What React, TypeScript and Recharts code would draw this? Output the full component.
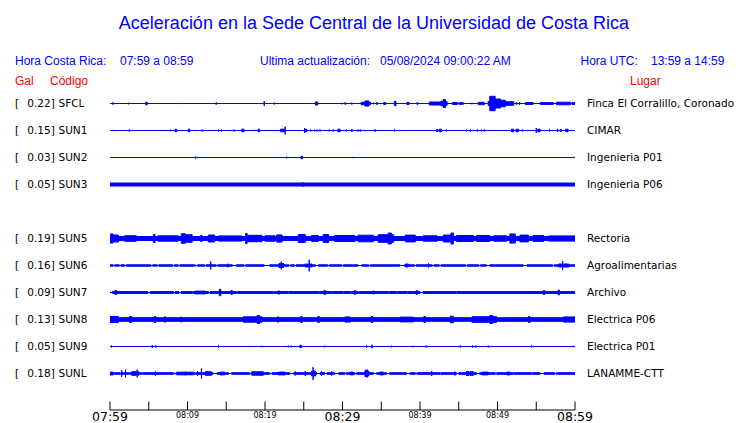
import { Area, ComposedChart, XAxis, YAxis } from "recharts"

// [start minute, end minute, half amplitude] ; start === end -> single spike
type Burst = [number, number, number]

const STATIONS = ["SFCL", "SUN1", "SUN2", "SUN3", "SUN5", "SUN6", "SUN7", "SUN8", "SUN9", "SUNL"]
const PEAK_GAL = [0.22, 0.15, 0.03, 0.05, 0.19, 0.16, 0.09, 0.13, 0.05, 0.18]
const PLACES = [
  "Finca El Corralillo, Coronado",
  "CIMAR",
  "Ingenieria P01",
  "Ingenieria P06",
  "Rectoria",
  "Agroalimentarias",
  "Archivo",
  "Electrica P06",
  "Electrica P01",
  "LANAMME-CTT",
]
// quiet noise level of each trace
const NOISE = [0, 0, 0, 1.5, 2.0, 0.7, 0.9, 1.8, 0, 0.8]

const SFCL: Burst[] = [
  [0.4, 0.4, 1.2], [2.4, 2.4, 0.8], [4.6, 4.8, 1.3], [8.9, 8.9, 0.6], [13.7, 13.7, 1.2],
  [19.9, 19.9, 2.5], [21.2, 21.2, 1.0], [26.5, 26.8, 1.6], [29.9, 29.9, 0.8], [30.3, 30.4, 0.8],
  [31.2, 31.2, 1.0], [32.4, 32.9, 1.2], [32.9, 33.4, 2.6], [33.4, 33.6, 1.3], [34.0, 34.0, 0.8],
  [34.4, 34.5, 1.0], [35.3, 35.6, 0.9], [36.7, 36.9, 2.2], [38.3, 38.6, 1.0], [39.6, 39.7, 0.9],
  [41.2, 42.7, 1.5], [42.7, 43.0, 2.3], [43.0, 43.3, 4.0], [43.3, 43.5, 1.8], [44.2, 44.8, 1.1],
  [45.0, 45.6, 0.8], [46.7, 46.7, 0.8], [47.5, 48.3, 1.2], [48.8, 49.0, 2.0], [49.0, 49.7, 7.2],
  [49.7, 50.4, 4.5], [50.4, 51.0, 3.3], [51.0, 52.1, 1.8], [52.4, 52.5, 0.9], [52.8, 52.9, 0.9],
  [53.6, 54.6, 1.0], [55.5, 57.2, 0.9], [57.6, 59.4, 1.3], [59.6, 60, 1.0],
]
const SUN1: Burst[] = [
  [0.4, 0.4, 0.6], [2.5, 2.5, 1.0], [7.8, 7.8, 0.8], [8.4, 8.6, 1.3], [10.1, 10.3, 1.3],
  [10.9, 10.9, 0.6], [11.9, 11.9, 1.0], [14.0, 14.0, 1.0], [14.4, 14.4, 0.8], [15.4, 15.4, 0.6],
  [16.0, 16.0, 1.0], [17.0, 17.3, 1.3], [18.3, 18.3, 0.6], [18.6, 18.6, 0.6], [19.1, 19.3, 1.3],
  [22.0, 22.5, 1.3], [22.6, 22.6, 3.8], [24.3, 24.3, 0.6], [25.1, 25.1, 2.5], [25.2, 25.4, 1.3],
  [25.9, 25.9, 1.0], [26.4, 26.4, 0.8], [26.7, 26.7, 1.0], [27.1, 27.1, 1.0], [28.3, 28.3, 0.8],
  [28.8, 28.8, 1.0], [29.4, 29.7, 1.3], [30.5, 30.5, 1.0], [31.2, 31.2, 1.4], [32.0, 32.0, 1.0],
  [32.3, 32.3, 1.0], [32.8, 32.8, 0.6], [34.2, 34.2, 1.3], [36.7, 36.7, 1.0], [38.1, 38.1, 0.6],
  [42.1, 42.3, 1.0], [42.5, 42.8, 1.3], [43.4, 43.4, 1.0], [46.0, 46.0, 0.8], [46.5, 46.5, 1.0],
  [46.9, 46.9, 0.6], [47.4, 47.4, 1.0], [47.9, 47.9, 0.8], [48.3, 48.3, 1.0], [51.8, 52.1, 1.3],
  [52.4, 52.7, 1.3], [53.2, 53.2, 1.0], [53.9, 53.9, 0.6], [55.0, 55.0, 2.5], [55.2, 55.5, 1.3],
  [56.7, 56.7, 1.0], [57.7, 57.8, 1.0], [58.1, 58.3, 1.0], [58.8, 59.1, 1.3],
]
const SUN2: Burst[] = [[11.05, 11.05, 1.0], [22.8, 22.8, 0.8], [24.65, 24.85, 1.3], [31.4, 31.4, 0.7]]
const SUN3: Burst[] = [[24.9, 24.9, 2.3]]
const SUN5: Burst[] = [
  [0.0, 0.4, 4.5], [0.4, 1.1, 3.5], [1.9, 3.4, 2.8], [5.6, 5.8, 4.0], [6.2, 8.8, 2.7],
  [9.2, 9.7, 4.8], [9.7, 10.6, 3.8], [11.7, 11.9, 3.0], [12.7, 13.5, 3.5], [14.0, 17.0, 2.6],
  [17.5, 17.7, 5.0], [17.8, 19.6, 3.2], [20.0, 21.3, 2.7], [21.5, 22.2, 3.6], [24.3, 25.2, 4.0],
  [26.0, 26.9, 2.9], [27.5, 28.2, 4.0], [29.0, 31.6, 3.0], [32.0, 34.0, 3.3], [34.6, 35.9, 3.8],
  [35.9, 36.3, 5.5], [36.3, 36.6, 3.8], [38.1, 39.4, 3.4], [40.4, 42.2, 2.7], [43.0, 44.0, 3.5],
  [44.0, 44.3, 5.5], [44.7, 46.9, 3.0], [47.3, 49.0, 3.0], [49.5, 51.2, 2.7], [51.6, 52.3, 4.6],
  [52.9, 54.0, 3.4], [54.6, 56.0, 2.9], [56.6, 60, 2.6],
]
const SUN6: Burst[] = [
  [0.4, 0.6, 0], [1.2, 1.4, 0], [1.9, 2.1, 0], [5.3, 5.5, 0], [6.1, 6.3, 0], [8.1, 8.3, 0],
  [8.8, 9.0, 0], [11.0, 11.3, 0], [12.2, 12.4, 0], [13.0, 13.0, 4.0], [13.7, 13.9, 0],
  [15.1, 15.3, 1.3], [15.8, 16.3, 0], [17.3, 17.5, 0], [19.9, 20.6, 0], [21.8, 22.0, 2.0],
  [22.1, 22.1, 3.8], [22.2, 22.4, 2.0], [23.1, 23.3, 0], [23.8, 24.0, 0], [25.2, 25.6, 1.5],
  [25.7, 25.7, 5.8], [25.8, 26.1, 1.5], [26.5, 26.9, 0], [28.1, 28.3, 0], [29.9, 30.1, 0],
  [32.0, 32.5, 0], [33.4, 33.6, 0], [37.4, 38.0, 0], [38.1, 38.5, 1.5], [39.3, 39.5, 0],
  [41.1, 41.1, 2.0], [41.6, 41.8, 0], [42.5, 42.7, 0], [45.9, 46.1, 0], [47.6, 47.8, 0],
  [48.6, 49.0, 0], [53.3, 53.8, 0], [57.1, 57.3, 0], [57.9, 58.3, 1.5], [58.4, 58.4, 4.3],
  [58.5, 59.2, 1.5],
]
const SUN7: Burst[] = [
  [0.0, 0.3, 0], [0.6, 0.9, 1.8], [4.9, 5.2, 0], [8.2, 8.4, 0], [8.9, 9.2, 0], [10.6, 10.7, 0],
  [11.0, 12.3, 1.4], [12.7, 12.9, 0], [14.1, 14.3, 3.2], [15.6, 15.8, 1.8], [16.3, 16.4, 0],
  [21.1, 21.2, 0], [21.8, 21.8, 2.0], [23.0, 23.1, 0], [26.9, 27.0, 0], [27.6, 27.8, 2.0],
  [28.6, 28.7, 0], [30.1, 30.2, 0], [31.0, 31.1, 0], [31.5, 31.7, 1.8], [32.0, 32.1, 0],
  [33.9, 34.1, 1.4], [35.9, 36.0, 0], [37.0, 37.1, 0], [38.3, 38.4, 0], [39.5, 39.7, 1.8],
  [40.0, 40.4, 0], [44.7, 44.8, 0], [55.9, 56.1, 1.8], [57.8, 58.0, 2.3],
]
const SUN8: Burst[] = [
  [0.0, 1.1, 3.0], [2.5, 2.8, 3.0], [5.7, 5.9, 3.0], [7.0, 7.2, 2.6], [9.1, 9.3, 2.4],
  [17.2, 19.0, 2.7], [19.0, 19.3, 4.0], [19.3, 19.6, 2.7], [21.6, 21.8, 2.6], [24.6, 24.8, 3.0],
  [26.8, 27.0, 3.0], [30.3, 31.0, 2.6], [33.7, 33.9, 3.0], [37.4, 39.1, 2.4], [40.5, 40.7, 3.0],
  [43.9, 44.3, 3.3], [46.7, 49.0, 2.8], [49.0, 49.4, 4.0], [49.4, 49.9, 2.8], [54.0, 54.2, 3.0],
  [58.5, 60, 2.6],
]
const SUN9: Burst[] = [
  [0.2, 0.2, 1.0], [1.7, 1.7, 0.6], [5.4, 5.5, 1.0], [5.9, 5.9, 1.0], [7.7, 7.7, 0.6],
  [9.9, 9.9, 0.6], [14.0, 14.0, 1.0], [17.8, 17.8, 0.6], [18.3, 18.3, 0.6], [19.6, 19.6, 0.8],
  [22.6, 22.6, 0.6], [23.0, 23.0, 0.8], [23.4, 23.4, 0.8], [24.5, 24.7, 1.2], [27.7, 27.7, 0.8],
  [33.1, 33.1, 1.0], [33.8, 33.8, 1.8], [36.3, 36.3, 0.8], [37.6, 37.6, 0.6], [39.1, 39.1, 0.8],
  [40.8, 40.8, 1.0], [45.2, 45.2, 1.0], [46.8, 46.8, 1.0], [47.2, 47.2, 1.0], [48.8, 48.8, 1.0],
  [54.4, 54.4, 1.0], [58.7, 58.7, 0.6], [59.7, 59.7, 0.6],
]
const SUNL: Burst[] = [
  [0.0, 0.4, 1.4], [0.6, 0.7, 0], [1.3, 1.4, 0], [1.5, 1.5, 3.5], [2.0, 2.0, 3.8], [2.4, 2.5, 0],
  [2.8, 3.4, 1.8], [3.5, 3.5, 3.8], [3.6, 3.7, 1.8], [4.1, 4.2, 0], [5.8, 5.9, 1.8], [8.2, 8.5, 0],
  [8.6, 9.6, 1.3], [9.7, 9.7, 2.0], [9.8, 10.8, 1.3], [11.0, 11.1, 0], [11.3, 11.3, 2.5],
  [11.8, 11.8, 5.0], [12.3, 13.1, 1.8], [13.3, 13.8, 0], [14.2, 14.8, 1.4], [15.3, 15.7, 0],
  [18.0, 18.2, 0], [18.3, 19.8, 1.7], [20.6, 20.9, 0], [21.7, 22.6, 1.4], [23.2, 23.7, 0],
  [23.9, 23.9, 2.0], [25.2, 25.2, 2.5], [26.0, 26.1, 2.5], [26.2, 26.2, 6.3], [26.3, 26.5, 2.5],
  [26.7, 27.1, 0], [27.3, 27.3, 2.2], [27.7, 28.0, 0], [28.6, 28.6, 2.0], [29.0, 29.5, 0],
  [30.3, 30.5, 0], [31.0, 31.4, 1.4], [31.6, 31.8, 0], [32.9, 33.1, 3.2], [33.2, 33.2, 4.0],
  [33.3, 33.4, 2.5], [34.0, 34.4, 0], [34.8, 35.3, 1.4], [35.7, 36.1, 0], [38.3, 38.7, 0],
  [39.4, 39.6, 0], [41.5, 41.5, 2.5], [42.6, 42.7, 0], [44.5, 44.5, 2.0], [44.7, 45.0, 0],
  [46.0, 46.3, 2.0], [46.5, 46.5, 2.5], [46.6, 46.9, 1.8], [47.3, 47.7, 0], [48.0, 48.8, 1.4],
  [49.7, 49.9, 0], [51.2, 51.6, 1.4], [52.0, 52.1, 0], [54.4, 54.5, 0], [55.0, 55.0, 1.5],
  [55.5, 56.0, 0], [57.2, 57.2, 1.5], [57.4, 57.6, 0],
]
const BURSTS = [SFCL, SUN1, SUN2, SUN3, SUN5, SUN6, SUN7, SUN8, SUN9, SUNL]

const TICK_MINUTES = [0, 5, 10, 15, 20, 25, 30, 35, 40, 45, 50, 55, 60]
const TICK_LABELS = ["07:59", "", "08:09", "", "08:19", "", "08:29", "", "08:39", "", "08:49", "", "08:59"]

const BLUE = "#0000ff"
const RED = "#ff0000"
const SANS = "'Liberation Sans', Arial, sans-serif"
const DEJAVU = "'DejaVu Sans', sans-serif"

function buildTrace(noise: number, bursts: Burst[]) {
  const sorted = [...bursts].sort((a, b) => a[0] - b[0] || a[1] - b[1])
  const pts: { t: number; a: number }[] = [{ t: 0, a: noise }]
  for (const [s, e, a] of sorted) {
    pts.push({ t: s, a: noise }, { t: s, a }, { t: e, a }, { t: e, a: noise })
  }
  pts.push({ t: 60, a: noise })
  return pts.map((p) => ({ t: p.t, band: [-p.a, p.a] }))
}

function Trace({ idx, top }: { idx: number; top: number }) {
  const data = buildTrace(NOISE[idx], BURSTS[idx])
  return (
    <div style={{ position: "absolute", left: 0, top }}>
      <ComposedChart width={740} height={27} data={data} margin={{ top: 0, right: 165, bottom: 0, left: 110 }}>
        <XAxis dataKey="t" type="number" domain={[0, 60]} hide allowDataOverflow />
        <YAxis type="number" domain={[-13.5, 13.5]} hide allowDataOverflow />
        <Area
          dataKey="band"
          type="linear"
          stroke={BLUE}
          strokeWidth={1}
          strokeLinejoin="miter"
          fill={BLUE}
          fillOpacity={1}
          dot={false}
          activeDot={false}
          isAnimationActive={false}
        />
      </ComposedChart>
    </div>
  )
}

function TimeTick(props: any) {
  const { x, y, payload } = props
  const i = TICK_MINUTES.indexOf(payload.value)
  const label = TICK_LABELS[i]
  const major = payload.value % 30 === 0
  return (
    <g>
      <line x1={x} x2={x} y1={y} y2={y - 8.5} stroke="#000" strokeWidth={1} />
      {label && (
        <text
          x={x}
          y={major ? y + 10.5 : y + 8}
          textAnchor="middle"
          fontFamily={DEJAVU}
          fontSize={major ? 12.5 : 8}
          fill="#000"
        >
          {label}
        </text>
      )}
    </g>
  )
}

export default function App() {
  const axisData = [{ t: 0 }, { t: 60 }]
  return (
    <div style={{ position: "absolute", left: 0, top: 0, width: 740, height: 423, background: "#fff", overflow: "hidden" }}>
      <svg width={740} height={423} style={{ position: "absolute", left: 0, top: 0 }}>
        <text x={374} y={29} textAnchor="middle" fontFamily={SANS} fontSize={18} fill={BLUE}>
          Aceleración en la Sede Central de la Universidad de Costa Rica
        </text>
        <g fontFamily={SANS} fontSize={12} fill={BLUE}>
          <text x={15} y={65}>Hora Costa Rica:</text>
          <text x={120} y={65}>07:59 a 08:59</text>
          <text x={260} y={65}>Ultima actualización:</text>
          <text x={380} y={65}>05/08/2024 09:00:22 AM</text>
          <text x={580.5} y={65}>Hora UTC:</text>
          <text x={651} y={65}>13:59 a 14:59</text>
        </g>
        <g fontFamily={SANS} fontSize={12} fill={RED}>
          <text x={15} y={85}>Gal</text>
          <text x={50} y={85}>Código</text>
          <text x={630} y={85}>Lugar</text>
        </g>
        <g fontFamily={DEJAVU} fontSize={10.5} fill="#000">
          {STATIONS.map((code, i) => {
            const slot = i < 4 ? i : i + 1
            const y = 107.3 + 27 * slot
            return (
              <g key={code}>
                <text x={15} y={y}>[</text>
                <text x={27.3} y={y}>{PEAK_GAL[i].toFixed(2)}]</text>
                <text x={58.5} y={y}>{code}</text>
                <text x={587} y={y}>{PLACES[i]}</text>
              </g>
            )
          })}
        </g>
      </svg>
      {STATIONS.map((code, i) => {
        const slot = i < 4 ? i : i + 1
        return <Trace key={code} idx={i} top={90 + 27 * slot} />
      })}
      <div style={{ position: "absolute", left: 0, top: 395.5 }}>
        <ComposedChart width={740} height={28} data={axisData} margin={{ top: 0, right: 165, bottom: 0, left: 110 }}>
          <XAxis
            dataKey="t"
            type="number"
            domain={[0, 60]}
            ticks={TICK_MINUTES}
            interval={0}
            height={14}
            tickSize={0}
            tickMargin={0}
            tickLine={false}
            axisLine={{ stroke: "#000", strokeWidth: 1 }}
            tick={<TimeTick />}
          />
          <YAxis hide domain={[0, 1]} />
        </ComposedChart>
      </div>
    </div>
  )
}
